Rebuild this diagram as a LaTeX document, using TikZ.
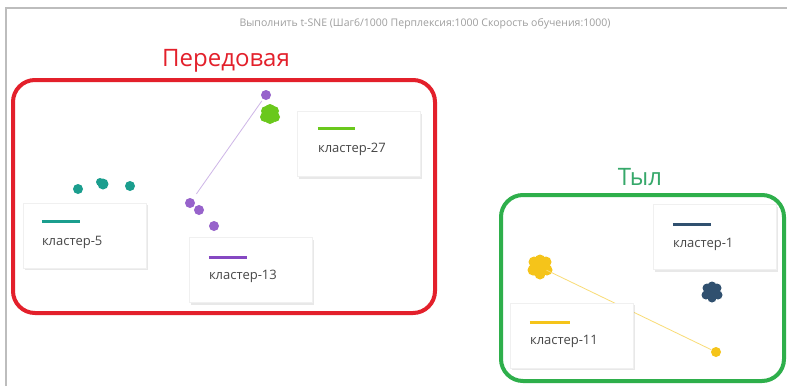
\documentclass[tikz,border=0pt]{standalone}
\usepackage{fontspec}
\setmainfont{Open Sans}
\usetikzlibrary{shadows}
\definecolor{frontred}{HTML}{E3202B}
\definecolor{reargreen}{HTML}{2EAF4B}
\definecolor{reartext}{HTML}{36A86A}
\definecolor{cteal}{HTML}{1B9E8E}
\definecolor{cpurple}{HTML}{8548C2}
\definecolor{clime}{HTML}{6AC81C}
\definecolor{cnavy}{HTML}{30506F}
\definecolor{cyellow}{HTML}{F5C41A}
\definecolor{frame}{HTML}{BDBDBD}
\tikzset{
  card/.style={draw=black!6, fill=white, minimum width=123pt, minimum height=65pt,
    inner sep=0pt, drop shadow={opacity=0.18, shadow xshift=1.5pt, shadow yshift=-2pt}},
  cardtext/.style={anchor=west, font=\fontsize{13}{15}\selectfont, text=black!72, inner sep=0pt},
  swatch/.style={line width=3pt},
  zone/.style={line width=4pt, rounded corners=22pt},
  zonetitle/.style={font=\fontsize{24}{28}\selectfont, inner sep=0pt},
  dot/.style={circle, inner sep=0pt, minimum size=#1},
}
\begin{document}
\begin{tikzpicture}[x=1pt,y=-1pt]
\useasboundingbox (0,0) rectangle (787,386);
\fill[white] (0,0) rectangle (787,386);
% chart frame
\draw[frame, line width=1.2pt] (6,386) -- (6,8) -- (787,8);
\node[font=\fontsize{10.5}{12}\selectfont, text=black!38] (title) at (425,24)
  {Выполнить t-SNE (Шаг6/1000 Перплексия:1000 Скорость обучения:1000)};

% front zone
\node[zonetitle, text=frontred] (fronttitle) at (226,61) {Передовая};
\draw[zone, frontred] (13,80) rectangle (435,313);

% rear zone
\node[zonetitle, text=reartext] (reartitle) at (640,177) {Тыл};
\draw[zone, reargreen] (501,195) rectangle (784,381);

% cluster 5 points
\node[dot=10pt, fill=cteal] (t1) at (78,189) {};
\node[dot=11pt, fill=cteal] (t2) at (103,184) {};
\node[dot=8pt, fill=cteal] at (100,182) {};
\node[dot=10pt, fill=cteal] (t3) at (130,186) {};

% cluster 13 points
\node[dot=10pt, fill=cpurple!85] (p0) at (266,95) {};
\node[dot=10pt, fill=cpurple!85] (p1) at (190,203) {};
\node[dot=10pt, fill=cpurple!85] (p2) at (199,210) {};
\node[dot=10pt, fill=cpurple!85] (p3) at (214,226) {};
\draw[cpurple!40, line width=0.8pt, shorten <=2pt, shorten >=6pt] (p0) -- (p1);

% cluster 27 points
\foreach \dx/\dy in {0/0,-4/-3,4/-3,-5/3,5/3,0/5,0/-5}
  \fill[clime] (270+\dx,114+\dy) circle (5pt);
\node[dot=1pt] (g0) at (270,114) {};

% cluster 1 points
\foreach \dx/\dy in {0/0,-5/-4,5/-4,-6/3,6/3,0/6,0/-6}
  \fill[cnavy] (712+\dx,292+\dy) circle (4.5pt);
\node[dot=1pt] (n0) at (712,292) {};

% cluster 11 points
\foreach \dx/\dy in {0/0,-6/-5,6/-5,-7/3,7/3,0/7,0/-7,-3/4,3/-2}
  \fill[cyellow] (540+\dx,267+\dy) circle (5.5pt);
\node[dot=2pt] (y0) at (540,267) {};
\node[dot=10pt, fill=cyellow] (y1) at (716,352) {};
\draw[cyellow!60, line width=0.8pt, shorten <=6pt] (y0) -- (y1);

% legend cards (swatch and label measured from each card's top-left corner)
\node[card] (c27) at (358.5,144) {};
\draw[swatch, clime] ([xshift=21pt,yshift=-17pt]c27.north west) -- ++(37,0);
\node[cardtext] (l27) at ([xshift=21pt,yshift=-38pt]c27.north west) {кластер-27};

\node[card] (c5) at (84.5,235.5) {};
\draw[swatch, cteal] ([xshift=19pt,yshift=-19pt]c5.north west) -- ++(38,0);
\node[cardtext] (l5) at ([xshift=19pt,yshift=-40pt]c5.north west) {кластер-5};

\node[card] (c13) at (250.5,270) {};
\draw[swatch, cpurple] ([xshift=20pt,yshift=-20pt]c13.north west) -- ++(38,0);
\node[cardtext] (l13) at ([xshift=20pt,yshift=-39pt]c13.north west) {кластер-13};

\node[card] (c1) at (714.5,237) {};
\draw[swatch, cnavy] ([xshift=20pt,yshift=-20pt]c1.north west) -- ++(38,0);
\node[cardtext] (l1) at ([xshift=20pt,yshift=-40pt]c1.north west) {кластер-1};

\node[card] (c11) at (571.5,335.5) {};
\draw[swatch, cyellow] ([xshift=20pt,yshift=-20pt]c11.north west) -- ++(40,0);
\node[cardtext] (l11) at ([xshift=20pt,yshift=-39pt]c11.north west) {кластер-11};
\end{tikzpicture}
\end{document}
